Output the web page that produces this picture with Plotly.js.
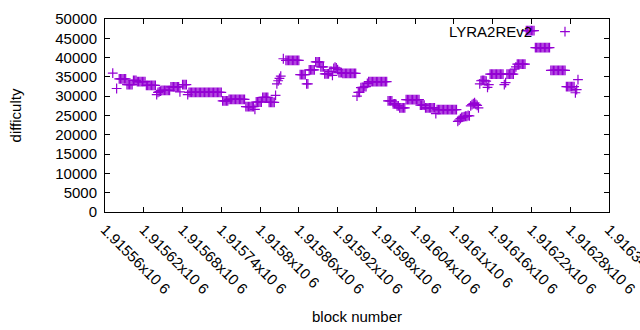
<!DOCTYPE html>
<html>
<head>
<meta charset="utf-8">
<script src="https://cdn.plot.ly/plotly-3.0.1.min.js"></script>
<style>html,body{margin:0;padding:0;background:#fff;}#chart{width:640px;height:330px;}</style>
</head>
<body>
<div id="chart"></div>
<script>
// First block of the sampled series and spacing between samples (blocks)
const firstBlock = 1915572;
const blockStep = 2;
// Difficulty per sampled block (null = no point)
const difficulty = [
36000,null,null,32000,null,
34500,34500,34500,34500,34500,34500,
33000,33000,33000,33000,33000,
34100,34100,34100,
33800,33800,33800,33800,33800,33800,33800,
32800,32800,32800,32800,32800,32800,32800,32800,
30400,31000,31200,31300,
31500,31500,31500,31500,31500,31500,31500,
32400,32400,32400,32400,32400,32400,32400,
31100,null,
33000,33000,33000,33000,
30400,
31000,31000,31000,31000,31000,31000,31000,31000,31000,31000,31000,31000,31000,
31000,31000,31000,31000,31000,31000,31000,31000,31000,31000,31000,31000,31000,
28800,28800,28800,28800,28800,
29200,29200,29200,29200,29200,29200,29200,29200,29200,29200,29200,29200,29200,
27300,27300,27300,27300,27300,27300,27300,
26600,
28500,28500,28500,28500,28500,
29700,29700,29700,29700,29700,
28400,28400,28400,28400,28400,
30200,33200,34000,34600,35200,null,39700,null,
39300,39300,39300,39300,39300,39300,39300,39300,39300,39300,39300,
35600,35600,35600,35600,35600,
33200,33200,
36800,36800,36800,36800,36800,
38900,38900,38900,38900,
37600,37600,37600,
35800,35800,35800,35800,
36400,36400,35400,37200,37500,37300,36900,
36100,36100,36100,
35900,35900,35900,35900,35900,35900,35900,35900,35900,35900,35900,
30000,31000,31000,32200,32300,32300,32500,32500,33300,
33800,33800,33800,33800,33800,33800,33800,33800,33800,33800,33800,33800,33800,33800,33800,
28800,28800,28800,28800,
28000,28000,28000,
27500,27500,
27000,27000,27000,27000,27000,
29100,29100,29100,29100,29100,29100,29100,29100,29100,29100,29100,
27700,27700,27700,27700,
27000,27000,27000,27000,27000,27000,27000,27000,
25500,
26500,26500,26500,26500,26500,26500,26500,26500,26500,26500,26500,26500,26500,26500,26500,26500,
23500,23800,24200,24500,24600,24700,24800,24800,25000,24900,
27500,27800,28100,28300,27900,27600,27000,
33200,34000,34100,34100,34000,33900,32300,33000,
35700,35700,35700,35700,35700,35700,35700,35700,35700,35700,35700,
33000,33500,
35700,35700,35700,35700,35700,35700,
37000,37600,
38300,38300,38300,38300,38300,38300,38300,
47000,47000,47000,47000,47000,47000,47000,
42600,42600,42600,42600,42600,42600,42600,42600,42600,42600,42600,42600,
36700,36700,36700,36700,36700,36700,36700,36700,36700,36700,36700,36700,
32500,32500,32500,32500,32500,32500,32500,
30900,31700,34300
];
const seriesName = "LYRA2REv2";
const xTickVals = [1915560,1915620,1915680,1915740,1915800,1915860,1915920,1915980,1916040,1916100,1916160,1916220,1916280,1916340];
const xTickText = ["1.91556x10 6","1.91562x10 6","1.91568x10 6","1.91574x10 6","1.9158x10 6","1.91586x10 6","1.91592x10 6","1.91598x10 6","1.91604x10 6","1.9161x10 6","1.91616x10 6","1.91622x10 6","1.91628x10 6","1.91634x10 6"];
const yTickVals = [0,5000,10000,15000,20000,25000,30000,35000,40000,45000,50000];
const yTickText = ["0","5000","10000","15000","20000","25000","30000","35000","40000","45000","50000"];

const FONT = "Liberation Sans, Arial, sans-serif";
const trace = {
  type: "scatter",
  mode: "markers",
  name: seriesName,
  x0: firstBlock,
  dx: blockStep,
  y: difficulty,
  marker: {symbol: "cross-thin-open", size: 7, color: "#9400D3", line: {color: "#9400D3", width: 1.2}},
  showlegend: true
};

const axisCommon = {
  showline: true, linecolor: "#000", linewidth: 1, mirror: "allticks",
  ticks: "inside", ticklen: 5, tickcolor: "#000", tickwidth: 1,
  showgrid: false, zeroline: false, automargin: false,
  tickfont: {family: FONT, size: 15, color: "#000"}
};

const layout = {
  width: 640, height: 330,
  margin: {l: 105, r: 31, t: 19, b: 118, autoexpand: false},
  paper_bgcolor: "#fff", plot_bgcolor: "#fff",
  font: {family: FONT, size: 15, color: "#000"},
  xaxis: Object.assign({}, axisCommon, {
    range: [1915560, 1916340], tickmode: "array", tickvals: xTickVals, ticktext: xTickText,
    tickangle: 45, ticklabeloverflow: "allow", ticklabelstandoff: 2,
    title: {text: "block number", font: {family: FONT, size: 15, color: "#000"}, standoff: 15}
  }),
  yaxis: Object.assign({}, axisCommon, {
    range: [0, 50000], tickmode: "array", tickvals: yTickVals, ticktext: yTickText,
    ticklabelstandoff: 4,
    title: {text: "difficulty", font: {family: FONT, size: 15, color: "#000"}, standoff: 30}
  }),
  showlegend: true,
  legend: {x: 0.873, xanchor: "left", y: 1.01, yanchor: "top", bgcolor: "rgba(0,0,0,0)",
           font: {family: FONT, size: 1, color: "rgba(0,0,0,0)"}, borderwidth: 0},
  annotations: [{
    xref: "paper", yref: "paper", x: 0.851, y: 0.933, xanchor: "right", yanchor: "middle",
    text: seriesName, showarrow: false, font: {family: FONT, size: 15, color: "#000"}
  }]
};

Plotly.newPlot("chart", [trace], layout, {displayModeBar: false, staticPlot: true});
</script>
</body>
</html>
